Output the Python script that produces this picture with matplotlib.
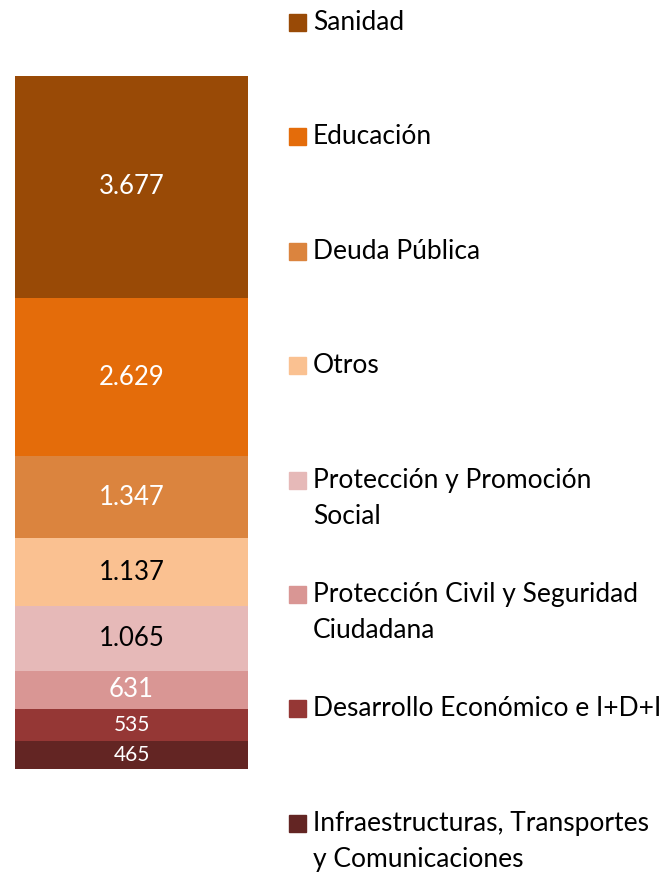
import matplotlib.pyplot as plt
from matplotlib.patches import Rectangle

# data, bottom to top of the stacked bar
categories = ['Infraestructuras, Transportes\ny Comunicaciones',
              'Desarrollo Económico e I+D+I',
              'Protección Civil y Seguridad\nCiudadana',
              'Protección y Promoción\nSocial',
              'Otros',
              'Deuda Pública',
              'Educación',
              'Sanidad']
values = [465, 535, 631, 1065, 1137, 1347, 2629, 3677]
value_labels = ['465', '535', '631', '1.065', '1.137', '1.347', '2.629', '3.677']
colors = ['#632523', '#953735', '#D99694', '#E6B9B8',
          '#FAC191', '#DB843E', '#E46C0A', '#994A06']
label_colors = ['white', 'white', 'white', 'black',
                'black', 'white', 'white', 'white']
label_sizes = [15, 15, 18.5, 18.5, 18.5, 18.5, 18.5, 18.5]

plt.rcParams['font.family'] = ['Lato', 'DejaVu Sans']

W, H = 666, 872
fig = plt.figure(figsize=(W / 100, H / 100), dpi=100)

# bar area in pixels: x 15..248, y 76..769 from top
ax = fig.add_axes([15 / W, (H - 769) / H, 233 / W, 693 / H])
ax.set_xlim(-0.5, 0.5)
ax.set_ylim(0, sum(values))
ax.axis('off')

bottom = 0
for v, lab, c, lc, fs in zip(values, value_labels, colors, label_colors, label_sizes):
    ax.bar(0, v, width=1.0, bottom=bottom, color=c, edgecolor='none')
    ax.text(0, bottom + v / 2, lab, ha='center', va='center',
            color=lc, fontsize=fs)
    bottom += v

# legend, top to bottom, evenly spaced
y0, step = 22.5, 114.4
for i, (cat, c) in enumerate(zip(categories[::-1], colors[::-1])):
    yc = y0 + i * step
    fig.patches.append(Rectangle((289 / W, (H - yc - 8.5) / H), 17 / W, 17 / H,
                                 transform=fig.transFigure, color=c))
    for j, line in enumerate(cat.split('\n')):
        fig.text(313 / W, (H - yc - j * 36) / H, line, ha='left', va='center',
                 fontsize=19)

plt.savefig('out.png', dpi=100)
